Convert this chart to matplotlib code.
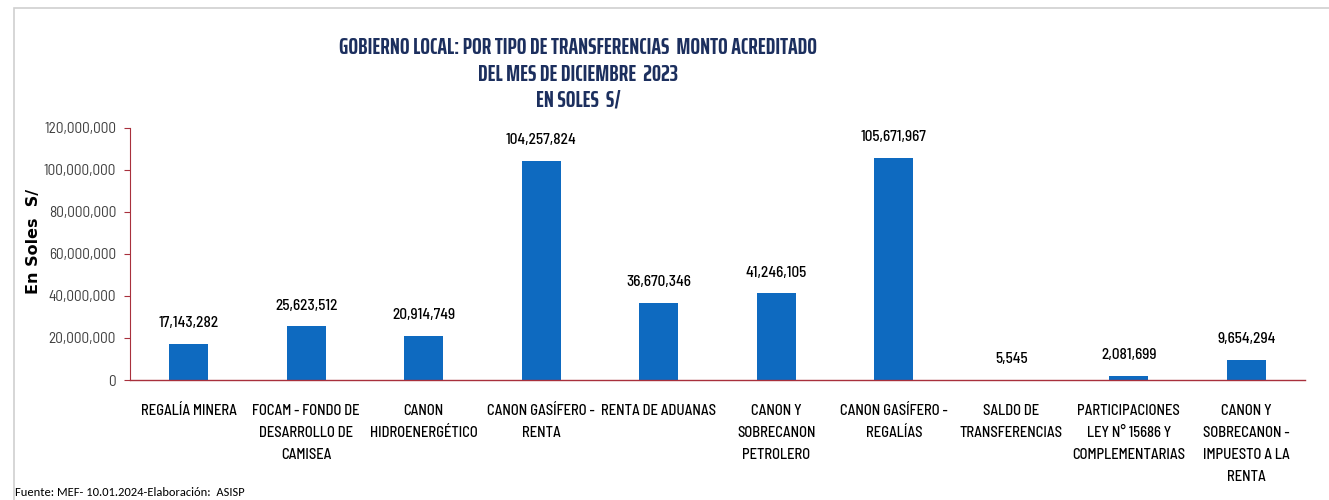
import matplotlib
matplotlib.use("Agg")
import matplotlib.pyplot as plt
from matplotlib.patches import Rectangle
from matplotlib.ticker import FuncFormatter

# Datos
categorias = [
    "REGALÍA MINERA",
    "FOCAM - FONDO DE\nDESARROLLO DE\nCAMISEA",
    "CANON\nHIDROENERGÉTICO",
    "CANON GASÍFERO -\nRENTA",
    "RENTA DE ADUANAS",
    "CANON Y\nSOBRECANON\nPETROLERO",
    "CANON GASÍFERO -\nREGALÍAS",
    "SALDO DE\nTRANSFERENCIAS",
    "PARTICIPACIONES\nLEY N° 15686 Y\nCOMPLEMENTARIAS",
    "CANON Y\nSOBRECANON -\nIMPUESTO A LA\nRENTA",
]
montos = [17143282, 25623512, 20914749, 104257824, 36670346,
          41246105, 105671967, 5545, 2081699, 9654294]
y_ticks = [0, 20000000, 40000000, 60000000, 80000000, 100000000, 120000000]

# fuentes
f_titulo = ["Saira ExtraCondensed", "Barlow Condensed", "DejaVu Sans"]
f_texto = ["Barlow Semi Condensed", "Roboto Condensed", "DejaVu Sans"]
f_pie = ["Carlito", "DejaVu Sans"]
rojo = "#a8303c"
azul = "#0e6ac0"
navy = "#1c2f5e"

fig = plt.figure(figsize=(13.29, 5), dpi=100)
ax = fig.add_axes([0.0978, 0.24, 0.8842, 0.504])

x = list(range(len(categorias)))
ax.bar(x, montos, width=0.33, color=azul)

# etiquetas de valor
for xi, v in zip(x, montos):
    ax.text(xi, v + 6500000, f"{v:,}", ha="center", va="bottom",
            fontsize=11, family=f_texto, fontweight="medium", color="black")

ax.set_xlim(-0.5, len(categorias) - 0.5)
ax.set_ylim(0, 120000000)
ax.set_yticks(y_ticks)
ax.yaxis.set_major_formatter(FuncFormatter(lambda v, p: f"{int(v):,}"))
ax.set_xticks(x)
ax.set_xticklabels(categorias, family=f_texto, fontsize=10.5, linespacing=1.75,
                   va="top", fontweight="medium")
for lbl in ax.get_yticklabels():
    lbl.set_family(f_texto)
    lbl.set_fontsize(11)
    lbl.set_color("#404040")

ax.tick_params(axis="x", length=0, pad=17)
ax.tick_params(axis="y", length=4, color=rojo, pad=6)
for s in ["top", "right"]:
    ax.spines[s].set_visible(False)
ax.spines["left"].set_color(rojo)
ax.spines["bottom"].set_color(rojo)
ax.spines["left"].set_linewidth(0.8)
ax.spines["bottom"].set_linewidth(1.0)

ax.set_ylabel("En Soles  S/", fontsize=11.5, fontweight="bold",
              family="DejaVu Sans")
ax.yaxis.set_label_coords(-0.076, 0.55)

# Título (tres líneas, posiciones de línea base)
lineas_titulo = ["GOBIERNO LOCAL: POR TIPO DE TRANSFERENCIAS  MONTO ACREDITADO",
                 "DEL MES DE DICIEMBRE  2023",
                 "EN SOLES  S/"]
for txt, yb in zip(lineas_titulo, [0.892, 0.838, 0.788]):
    fig.text(0.435, yb, txt, ha="center", va="baseline", fontsize=16.5,
             fontweight="bold", family=f_titulo, color=navy)

# Fuente
fig.text(0.011, 0.004, "Fuente: MEF- 10.01.2024-Elaboración:  ASISP",
         fontsize=9, family=f_pie, ha="left", va="bottom")

# Borde
fig.add_artist(Rectangle((0.0105, -0.01), 1.2, 0.994, transform=fig.transFigure,
                         fill=False, edgecolor="#d0d0d0", linewidth=1.2))

fig.savefig("out.png", dpi=100)
